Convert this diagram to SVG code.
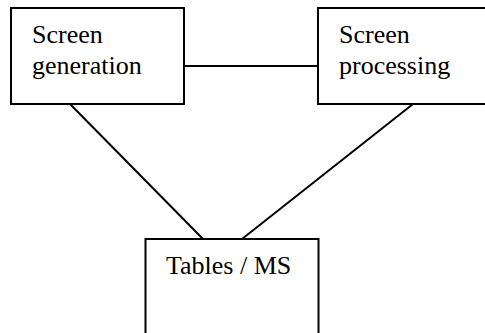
<svg xmlns="http://www.w3.org/2000/svg" width="485" height="333" viewBox="0 0 485 333">
<style>
.box{fill:#fff;stroke:#000;stroke-width:2}
.ln{stroke:#000;stroke-width:2;fill:none}
text{font-family:"Liberation Serif","Times New Roman",serif;font-size:26px;fill:#000}
</style>
<rect width="485" height="333" fill="#fff"/>
<g id="connectors">
<line class="ln" x1="184" y1="66" x2="318" y2="66"/>
<line class="ln" x1="70" y1="104" x2="203" y2="239"/>
<line class="ln" x1="413" y1="104" x2="242" y2="239"/>
</g>
<g id="screen-generation">
<rect class="box" x="11" y="8" width="173" height="96"/>
<text x="32" y="43">Screen</text>
<text x="32" y="74">generation</text>
</g>
<g id="screen-processing">
<rect class="box" x="318" y="8" width="180" height="96"/>
<text x="339" y="43">Screen</text>
<text x="339" y="74">processing</text>
</g>
<g id="tables-ms">
<rect class="box" x="145.5" y="239" width="173" height="110"/>
<text x="166" y="274">Tables / MS</text>
</g>
</svg>
